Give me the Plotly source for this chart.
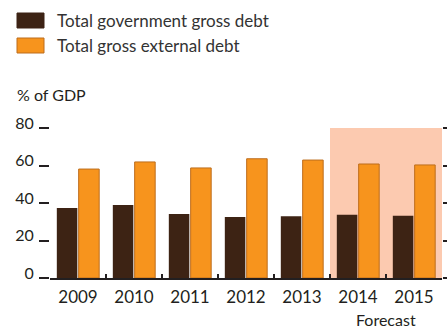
import plotly.graph_objects as go

years = ["2009", "2010", "2011", "2012", "2013", "2014", "2015"]
gov_debt = [37.4, 39.0, 34.1, 32.5, 33.0, 33.7, 33.2]
ext_debt = [58.1, 61.9, 58.7, 63.6, 62.9, 60.8, 60.3]
series_names = ["Total government gross debt", "Total gross external debt"]
y_ticks = [0, 20, 40, 60, 80]

W, H = 447, 329
L, R, T, B = 50, 5, 128, 51
PW, PH = W - L - R, H - T - B

def px(x):
    return (x - L) / PW

def py(y):
    return (H - B - y) / PH

DARK = "#3d2314"
ORANGE = "#f7941d"
ORANGE_EDGE = "#bd6d1c"
TXT = "#231f20"
FONT = "Lato"

fig = go.Figure()
fig.add_trace(go.Bar(x=years, y=gov_debt, name=series_names[0],
                     marker=dict(color=DARK, line=dict(width=0))))
fig.add_trace(go.Bar(x=years, y=ext_debt, name=series_names[1],
                     marker=dict(color=ORANGE, line=dict(color=ORANGE_EDGE, width=1))))
# invisible trace for right-side mirrored ticks
fig.add_trace(go.Scatter(x=[years[0]], y=[0], yaxis="y2", mode="none",
                         showlegend=False, hoverinfo="skip"))

fig.add_shape(type="rect", xref="x", yref="y", x0=4.5, x1=6.5, y0=0, y1=80,
              fillcolor="#fccab0", line=dict(width=0), layer="below")

# legend keys
legend_rows = [(13, 28, DARK, None), (38, 53, ORANGE, ORANGE_EDGE)]
for (y0, y1, col, edge), name in zip(legend_rows, series_names):
    fig.add_shape(type="rect", xref="paper", yref="paper",
                  x0=px(17), x1=px(44), y0=py(y1), y1=py(y0),
                  fillcolor=col,
                  line=dict(color=edge if edge else col, width=1))
    fig.add_annotation(x=px(55), y=py((y0 + y1) / 2), xref="paper", yref="paper",
                       text=name, showarrow=False, xanchor="left", yanchor="middle",
                       font=dict(family=FONT, size=17, color="#333333"))

fig.add_annotation(x=px(15), y=py(94), xref="paper", yref="paper",
                   text="% of GDP", showarrow=False, xanchor="left", yanchor="middle",
                   font=dict(family=FONT, size=16, color=TXT))
fig.add_annotation(x=5.5, y=py(319), xref="x", yref="paper",
                   text="Forecast", showarrow=False, xanchor="center", yanchor="middle",
                   borderpad=0,
                   font=dict(family=FONT, size=16, color=TXT))

fig.update_layout(
    template="none",
    width=W, height=H,
    margin=dict(l=L, r=R, t=T, b=B, autoexpand=False),
    paper_bgcolor="white", plot_bgcolor="rgba(0,0,0,0)",
    barmode="group", bargap=0.22, bargroupgap=0.06,
    showlegend=False,
    font=dict(family=FONT, color=TXT),
    xaxis=dict(type="category", showgrid=False, showline=True, linecolor=TXT,
               linewidth=2, ticks="inside", tickson="boundaries", ticklen=4,
               tickwidth=1.5, tickcolor=TXT, tickfont=dict(size=17, color=TXT),
               range=[-0.5, 6.5], zeroline=False, automargin=False,
               ticklabelstandoff=3),
    yaxis=dict(range=[0, 80], tickvals=y_ticks, showgrid=False, zeroline=False,
               showline=False, ticks="outside", ticklen=10, tickwidth=1.5,
               tickcolor=TXT, tickfont=dict(size=16, color=TXT),
               ticklabelshift=-5, ticklabelstandoff=2, automargin=False),
    yaxis2=dict(range=[0, 80], tickvals=y_ticks, overlaying="y", side="right",
                showgrid=False, zeroline=False, showline=False, ticks="outside",
                ticklen=10, tickwidth=1.5, tickcolor=TXT, showticklabels=False,
                automargin=False),
)

fig.write_html("out.html", config={"displayModeBar": False},
               post_script="document.body.style.margin='0';document.body.style.padding='0';")
